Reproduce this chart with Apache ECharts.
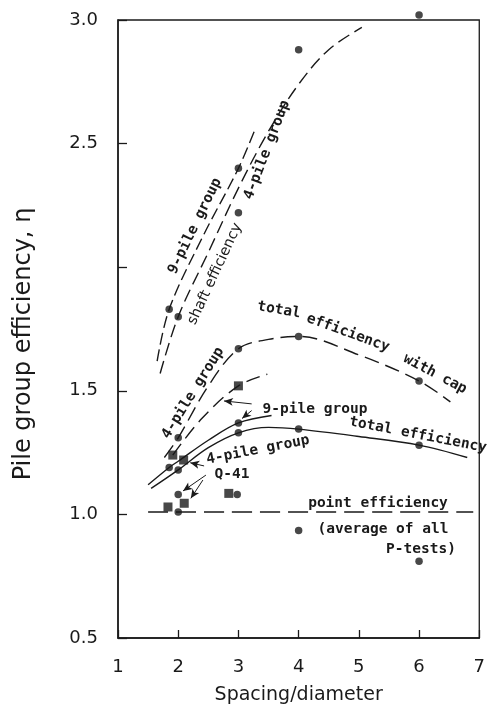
<!DOCTYPE html>
<html>
<head>
<meta charset="utf-8">
<script src="https://cdn.jsdelivr.net/npm/echarts@6/dist/echarts.min.js"></script>
<style>
html, body { margin: 0; padding: 0; background: #fff; }
#main { width: 488px; height: 715px; }
</style>
</head>
<body>
<div id="main"></div>
<script>
// measured points (spacing/diameter, efficiency)
var shaft9Pts = [[1.85, 1.83], [3, 2.40]];
var shaft4Pts = [[2, 1.80], [3, 2.22], [4, 2.88], [6, 3.02]];
var cap4Pts = [[2, 1.31], [3, 1.67], [4, 1.72], [6, 1.54]];
var total9Pts = [[1.85, 1.19], [3, 1.37]];
var total4Pts = [[2, 1.18], [3, 1.33], [4, 1.345], [6, 1.28]];
var pointPts = [[2, 1.08], [2, 1.01], [2.98, 1.08], [4, 0.935], [6, 0.81]];
var squarePts = [[1.91, 1.24], [2.09, 1.22], [3, 1.52], [1.83, 1.03], [2.1, 1.045], [2.84, 1.085]];

// fitted curves
var shaft9Curve = [[1.65, 1.62], [1.85, 1.83], [2.4, 2.12], [3, 2.40], [3.28, 2.56]];
var shaft4Curve = [[1.70, 1.57], [2, 1.80], [2.5, 2.06], [3, 2.32], [3.5, 2.55], [4, 2.74], [4.5, 2.88], [5.05, 2.97]];
var cap4Curve = [[1.77, 1.23], [2, 1.31], [2.5, 1.52], [3, 1.67], [3.5, 1.708], [4, 1.72], [5, 1.645], [6, 1.54], [6.52, 1.455]];
var cap9Curve = [[1.91, 1.24], [2.4, 1.39], [3, 1.52], [3.48, 1.567]];
var total9Curve = [[1.5, 1.12], [1.85, 1.19], [2, 1.215], [2.5, 1.30], [3, 1.37], [3.55, 1.40]];
var total4Curve = [[1.55, 1.105], [2, 1.18], [2.5, 1.27], [3, 1.33], [3.5, 1.352], [4, 1.345], [5, 1.315], [6, 1.28], [6.8, 1.23]];
var pointLine = [[1.5, 1.01], [6.9, 1.01]];

// annotation arrows [from, to]
var arrows = [
    [[3.22, 1.447], [2.76, 1.459]],
    [[3.22, 1.42], [3.06, 1.388]],
    [[2.43, 1.196], [2.2, 1.209]],
    [[2.46, 1.159], [2.08, 1.095]],
    [[2.41, 1.139], [2.21, 1.065]]
];

var ink = '#1a1a1a';
var mono = '"DejaVu Sans Mono", monospace';
var sans = '"DejaVu Sans", sans-serif';

var chart = echarts.init(document.getElementById('main'));

function curve(data, dash) {
    return {
        type: 'line',
        data: data,
        smooth: 0.35,
        symbol: 'none',
        lineStyle: { color: ink, width: 1.4, type: dash || 'solid' }
    };
}

function dots(data, sym, size) {
    return {
        type: 'scatter',
        data: data,
        symbol: sym,
        symbolSize: size,
        clip: false,
        itemStyle: { color: ink }
    };
}

function note(text, x, y, deg, bold, font) {
    return {
        type: 'text',
        x: x,
        y: y,
        rotation: deg * Math.PI / 180,
        silent: true,
        style: {
            text: text,
            fill: ink,
            fontFamily: font || mono,
            fontWeight: bold === false ? 'normal' : 'bold',
            fontSize: 14.5,
            align: 'center',
            verticalAlign: 'middle'
        }
    };
}

var arrowLine = curve([], 'solid');
arrowLine.markLine = {
    silent: true,
    symbol: ['none', 'arrow'],
    symbolSize: [6, 9],
    label: { show: false },
    lineStyle: { color: ink, width: 1, type: 'solid' },
    data: arrows.map(function (a) {
        return [{ coord: a[0] }, { coord: a[1] }];
    })
};

var option = {
    animation: false,
    grid: {
        left: 118, right: 2, top: 20, bottom: 77,
        show: true, borderColor: ink, borderWidth: 1.3
    },
    xAxis: {
        type: 'value',
        min: 1, max: 7, interval: 1,
        name: 'Spacing/diameter',
        nameLocation: 'middle',
        nameGap: 48,
        nameTextStyle: { fontFamily: sans, fontSize: 19, color: ink },
        axisLine: { lineStyle: { color: ink, width: 1.5 } },
        axisTick: { inside: true, length: 8, lineStyle: { color: ink, width: 1.3 } },
        axisLabel: { margin: 20, fontFamily: sans, fontSize: 18, color: ink },
        splitLine: { show: false }
    },
    yAxis: {
        type: 'value',
        min: 0.5, max: 3.0, interval: 0.5,
        name: 'Pile group efficiency, η',
        nameLocation: 'middle',
        nameGap: 82,
        nameTextStyle: { fontFamily: sans, fontSize: 24, color: ink, padding: [0, 30, 0, 0] },
        axisLine: { lineStyle: { color: ink, width: 1.5 } },
        axisTick: { inside: true, length: 9, lineStyle: { color: ink, width: 1.3 } },
        axisLabel: {
            margin: 20, fontFamily: sans, fontSize: 18, color: ink,
            formatter: function (v) { return v === 2 ? '' : v.toFixed(1); }
        },
        splitLine: { show: false }
    },
    series: [
        curve(shaft9Curve, [12, 5]),
        curve(shaft4Curve, [13, 6]),
        curve(cap4Curve, [15, 7]),
        curve(cap9Curve, [14, 7]),
        curve(total9Curve),
        curve(total4Curve),
        curve(pointLine, [20, 8]),
        arrowLine,
        dots(shaft9Pts, 'circle', 7.5),
        dots(shaft4Pts, 'circle', 7.5),
        dots(cap4Pts, 'circle', 7.5),
        dots(total9Pts, 'circle', 7.5),
        dots(total4Pts, 'circle', 7.5),
        dots(pointPts, 'circle', 7.5),
        dots(squarePts, 'rect', 9)
    ],
    graphic: [
        note('9-pile group', 195, 226, 64),
        note('shaft efficiency', 215, 274, 65, false, sans),
        note('4-pile group', 267, 150, 69),
        note('4-pile group', 193, 393, 58),
        note('total', 279, 310, -10),
        note('efficiency', 348, 333, -20),
        note('with cap', 435, 374, -28),
        note('9-pile group', 315, 409, 0),
        note('4-pile group', 258, 450, 11),
        note('Q-41', 232, 474, 0),
        note('total efficiency', 418, 435, -11),
        note('point efficiency', 378, 503, 0),
        note('(average of all', 383, 529, 0),
        note('P-tests)', 421, 549, 0)
    ]
};

chart.setOption(option);
</script>
</body>
</html>
